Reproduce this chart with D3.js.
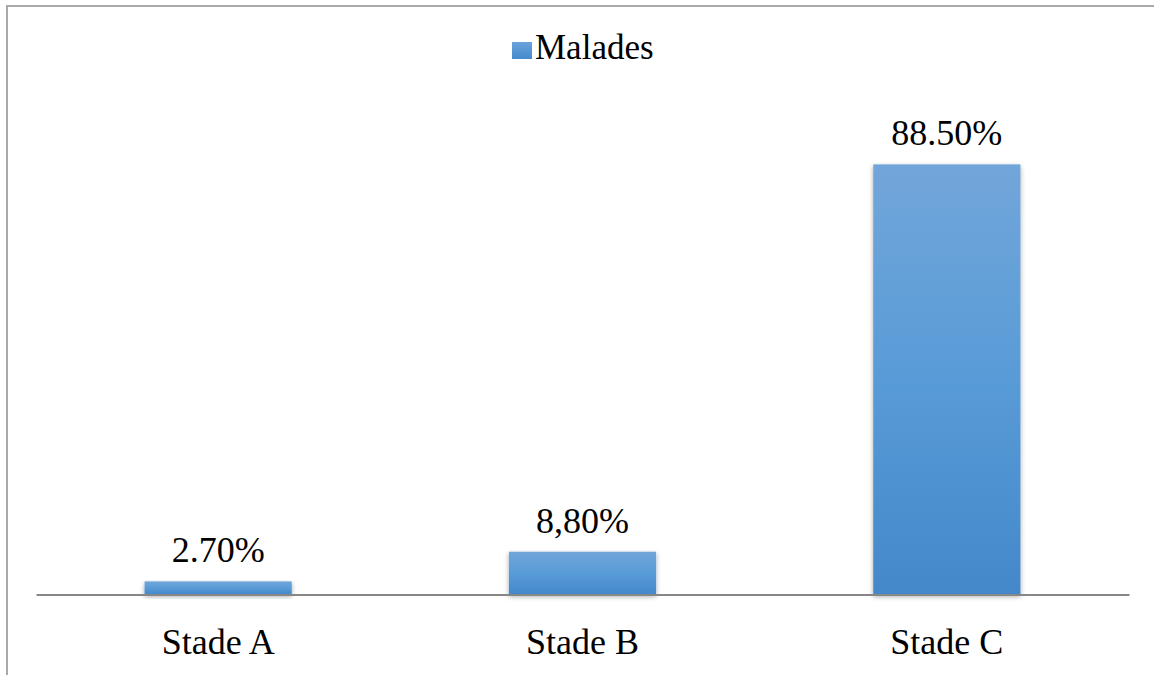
<!DOCTYPE html>
<html>
<head>
<meta charset="utf-8">
<script src="https://cdn.jsdelivr.net/npm/d3@7"></script>
<style>
  html, body { margin: 0; padding: 0; background: #fff; }
  svg { display: block; }
</style>
</head>
<body>
<svg id="chart" width="1154" height="675"></svg>
<script>
// Share of patients by stage
const categories = ["Stade A", "Stade B", "Stade C"];
const values = [2.7, 8.8, 88.5];
const valueLabels = ["2.70%", "8,80%", "88.50%"];
const seriesName = "Malades";

const W = 1154, H = 675;
const plot = { left: 36, right: 1129, top: 108.5, bottom: 594.5 };
const SERIF = '"Liberation Serif", "Times New Roman", serif';

const svg = d3.select("#chart");
const defs = svg.append("defs");

// vertical blue gradient, lighter at the top
const grad = defs.append("linearGradient")
  .attr("id", "barFill").attr("x1", 0).attr("y1", 0).attr("x2", 0).attr("y2", 1);
grad.append("stop").attr("offset", "0%").attr("stop-color", "#72a6da");
grad.append("stop").attr("offset", "50%").attr("stop-color", "#589bd7");
grad.append("stop").attr("offset", "100%").attr("stop-color", "#4488ca");

const legGrad = defs.append("linearGradient")
  .attr("id", "legFill").attr("x1", 0).attr("y1", 0).attr("x2", 0).attr("y2", 1);
legGrad.append("stop").attr("offset", "0%").attr("stop-color", "#6aa2dc");
legGrad.append("stop").attr("offset", "100%").attr("stop-color", "#458bcc");

const shadow = defs.append("filter").attr("id", "shadow")
  .attr("x", "-10%").attr("y", "-10%").attr("width", "120%").attr("height", "140%");
shadow.append("feDropShadow")
  .attr("dx", 0).attr("dy", 2).attr("stdDeviation", 2.5)
  .attr("flood-color", "#000").attr("flood-opacity", 0.35);

// frame (top and left edges)
svg.append("line").attr("x1", 6).attr("y1", 6).attr("x2", W).attr("y2", 6)
  .attr("stroke", "#a9a9a9").attr("stroke-width", 2);
svg.append("line").attr("x1", 7).attr("y1", 5).attr("x2", 7).attr("y2", H)
  .attr("stroke", "#a9a9a9").attr("stroke-width", 2);

const x = d3.scaleBand().domain(categories).range([plot.left, plot.right]).padding(0);
const y = d3.scaleLinear().domain([0, 100]).range([plot.bottom, plot.top]);
const barW = x.bandwidth() * 0.404;

// bars
svg.append("g").selectAll("rect")
  .data(values)
  .join("rect")
  .attr("x", (d, i) => x(categories[i]) + x.bandwidth() / 2 - barW / 2)
  .attr("y", d => y(d))
  .attr("width", barW)
  .attr("height", d => y(0) - y(d))
  .attr("fill", "url(#barFill)")
  .attr("filter", "url(#shadow)");

// category axis
const xAxis = svg.append("g")
  .attr("transform", `translate(0,${y(0)})`)
  .call(d3.axisBottom(x).tickSize(0).tickPadding(34));
xAxis.select(".domain").attr("stroke", "#878787").attr("stroke-width", 2);
xAxis.selectAll("text")
  .style("font-family", SERIF)
  .style("font-size", "36px").attr("fill", "#000");

// value labels
svg.append("g").selectAll("text")
  .data(values)
  .join("text")
  .attr("x", (d, i) => x(categories[i]) + x.bandwidth() / 2)
  .attr("y", d => y(d) - 19)
  .attr("text-anchor", "middle")
  .attr("fill", "#000")
  .style("font-family", SERIF)
  .style("font-size", "36px")
  .text((d, i) => valueLabels[i]);

// legend
const leg = svg.append("g");
leg.append("rect").attr("x", 512).attr("y", 42).attr("width", 20).attr("height", 17)
  .attr("fill", "url(#legFill)");
leg.append("text").attr("x", 535).attr("y", 59)
  .attr("fill", "#000")
  .style("font-family", SERIF)
  .style("font-size", "35px").text(seriesName);
</script>
</body>
</html>
